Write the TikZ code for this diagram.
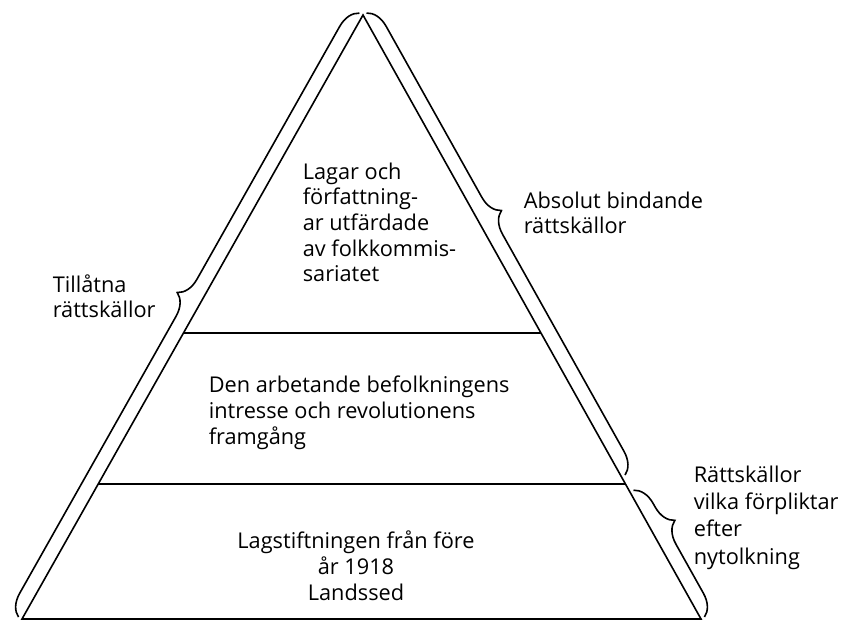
\documentclass[tikz,border=0pt]{standalone}
\usepackage{fontspec}
\setmainfont{Open Sans}
\usetikzlibrary{calc,decorations.pathreplacing}
\tikzset{
	texte/.style={font=\fontsize{16.3}{19.3}\selectfont, inner sep=0pt, align=left, anchor=base west},
	accolade/.style={decorate, decoration={brace, amplitude=16pt, raise=3pt, aspect=#1}},
	accolade/.default=0.5
}
\begin{document}
\begin{tikzpicture}[x=0.75pt,y=-0.75pt,line width=1.2pt]
	% Cadre de l'image
	\useasboundingbox (0,0) rectangle (849,623);
	% Sommets du triangle
	\coordinate (S) at (363,15);
	\coordinate (G) at (22,619);
	\coordinate (D) at (701,619);
	\draw (G) -- (S) -- (D) -- cycle;
	% Niveaux
	\draw ($(S)!0.5265!(G)$) -- ($(S)!0.5265!(D)$);
	\draw ($(S)!0.7765!(G)$) -- ($(S)!0.7765!(D)$);
	% Accolades
	\draw [accolade=0.52] (G) -- (S);
	\draw [accolade=0.45] (S) -- ($(S)!0.765!(D)$);
	\draw [accolade=0.32] ($(S)!0.79!(D)$) -- (D);
	% Textes dans le triangle (ancre sur la derniere ligne)
	\node [texte] (lagar) at (302,282) {Lagar och\\författning-\\ar utfärdade\\av folkkommis-\\sariatet};
	\node [texte] (intresse) at (208,444) {Den arbetande befolkningens\\intresse och revolutionens\\framgång};
	\node [texte, align=center, anchor=base] (landssed) at (356,600) {Lagstiftningen från före\\år 1918\\Landssed};
	% Textes des accolades
	\node [texte] (tillatna) at (52,318) {Tillåtna\\rättskällor};
	\node [texte] (absolut) at (523,234) {Absolut bindande\\rättskällor};
	\node [texte, font=\fontsize{16.3}{20.3}\selectfont] (nytolkning) at (693,564) {Rättskällor\\vilka förpliktar\\efter\\nytolkning};
\end{tikzpicture}
\end{document}
